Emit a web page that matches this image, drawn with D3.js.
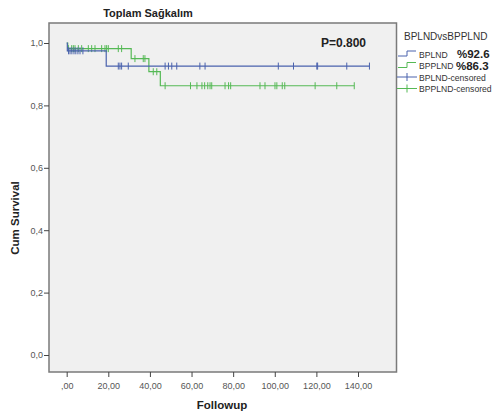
<!DOCTYPE html>
<html>
<head>
<meta charset="utf-8">
<script src="https://cdn.jsdelivr.net/npm/d3@7"></script>
<style>
  body { margin: 0; background: #fff; }
  text { font-family: "Liberation Sans", Arial, sans-serif; }
</style>
</head>
<body>
<svg id="contenedor" width="496" height="414"></svg>
<script>
// datos de las curvas (tiempo, supervivencia)
let pasosBPLND = [[0, 1.0], [0.3, 0.975], [19, 0.926], [145.5, 0.926]];
let pasosBPPLND = [[0, 1.0], [0.5, 0.982], [31, 0.950], [39.5, 0.908], [45, 0.863], [138.2, 0.863]];

// tiempos censurados
let censBPLND = [0.9, 1.6, 2.5, 3.5, 4.4, 5.4, 6.4, 7.8, 24.8, 25.6, 26.4, 29.6, 47.3, 48.9, 50.5, 52.9,
  64, 66.5, 101.7, 109, 120.2, 120.6, 134.6, 145.5];
let censBPPLND = [0.8, 2.4, 3.2, 4.0, 5.6, 7.2, 10.4, 12, 13.6, 16.8, 18.4, 19.2, 20, 24.8, 26.4,
  32.8, 36.8, 37.6, 41.6, 43.3, 47.3, 59.5, 62.6, 65, 66.3, 67.8, 68.9, 69.7, 76.1, 77.8, 78.8,
  92.9, 95.3, 100.1, 101, 103.6, 104.8, 119.4, 129.8, 138.2];

let ticksX = [0, 20, 40, 60, 80, 100, 120, 140];
let ticksY = [0, 0.2, 0.4, 0.6, 0.8, 1.0];
let leyendaNombres = ["BPLND", "BPPLND", "BPLND-censored", "BPPLND-censored"];
let leyendaPct = ["%92.6", "%86.3"];

let azul = "#4a62ad";
let verde = "#55b955";

let svg = d3.select("#contenedor");
let x0 = 49, x1 = 396.5, y0 = 23, y1 = 372;

let xScale = d3.scaleLinear().domain([-8.5, 158.5]).range([x0, x1]);
let yScale = d3.scaleLinear().domain([0, 1]).range([355, 43]);

// area del grafico
svg.append("rect")
  .attr("x", x0).attr("y", y0)
  .attr("width", x1 - x0).attr("height", y1 - y0)
  .attr("fill", "#f0f0f0");

// buscar supervivencia en un tiempo
function survAt(pasos, t) {
  let s = pasos[0][1];
  pasos.forEach((p) => { if (p[0] <= t) s = p[1]; });
  return s;
}

function dibujarCurva(pasos, cens, color) {
  let line = d3.line()
    .x((d) => xScale(d[0]))
    .y((d) => yScale(d[1]))
    .curve(d3.curveStepAfter);
  svg.append("path")
    .datum(pasos)
    .attr("d", line)
    .attr("fill", "none")
    .attr("stroke", color)
    .attr("stroke-width", 1.2);
  svg.append("g")
    .selectAll("line")
    .data(cens)
    .enter()
    .append("line")
    .attr("x1", (d) => xScale(d)).attr("x2", (d) => xScale(d))
    .attr("y1", (d) => yScale(survAt(pasos, d)) - 3.5)
    .attr("y2", (d) => yScale(survAt(pasos, d)) + 3.5)
    .attr("stroke", color)
    .attr("stroke-width", 1);
}

dibujarCurva(pasosBPPLND, censBPPLND, verde);
dibujarCurva(pasosBPLND, censBPLND, azul);

// marco
svg.append("rect")
  .attr("x", x0).attr("y", y0)
  .attr("width", x1 - x0).attr("height", y1 - y0)
  .attr("fill", "none")
  .attr("stroke", "#7a7a7a")
  .attr("stroke-width", 1.5);

// ejes
let fmtX = (d) => d === 0 ? ",00" : d3.format(".2f")(d).replace(".", ",");
let axisX = d3.axisBottom(xScale).tickValues(ticksX).tickSize(5).tickSizeOuter(0).tickFormat(fmtX);
let gx = svg.append("g").attr("transform", `translate(0, ${y1})`).call(axisX);
gx.select(".domain").remove();
gx.selectAll("line").attr("stroke", "#444");
gx.selectAll("text").attr("fill", "#555").style("font-size", "9px").attr("dy", "0.95em");

let axisY = d3.axisLeft(yScale).tickValues(ticksY).tickSize(5).tickFormat((d) => d3.format(".1f")(d).replace(".", ","));
let gy = svg.append("g").attr("transform", `translate(${x0}, 0)`).call(axisY);
gy.select(".domain").remove();
gy.selectAll("line").attr("stroke", "#444");
gy.selectAll("text").attr("fill", "#555").style("font-size", "9px").attr("x", -6);

// titulos
svg.append("text").attr("x", 148).attr("y", 17).attr("text-anchor", "middle")
  .style("font-size", "11px").style("font-weight", "bold").attr("fill", "#222")
  .text("Toplam Sağkalım");
svg.append("text").attr("x", 222).attr("y", 409).attr("text-anchor", "middle")
  .style("font-size", "11.5px").style("font-weight", "bold").attr("fill", "#222")
  .text("Followup");
svg.append("text").attr("transform", "translate(19, 218) rotate(-90)").attr("text-anchor", "middle")
  .style("font-size", "11.5px").style("font-weight", "bold").attr("fill", "#222")
  .text("Cum Survival");
svg.append("text").attr("x", 321).attr("y", 47)
  .style("font-size", "12px").style("font-weight", "bold").attr("fill", "#222")
  .text("P=0.800");

// leyenda
svg.append("text").attr("x", 404).attr("y", 40)
  .style("font-size", "10px").attr("fill", "#333").text("BPLNDvsBPPLND");
let colores = [azul, verde, azul, verde];
leyendaNombres.forEach((nombre, i) => {
  let yy = 54 + i * 11.5;
  if (i < 2) {
    svg.append("path")
      .attr("d", `M398,${yy + 2}H407V${yy - 3}H416`)
      .attr("fill", "none").attr("stroke", colores[i]).attr("stroke-width", 1);
  } else {
    svg.append("line").attr("x1", 397).attr("x2", 417).attr("y1", yy).attr("y2", yy)
      .attr("stroke", colores[i]);
    svg.append("line").attr("x1", 407).attr("x2", 407).attr("y1", yy - 4).attr("y2", yy + 4)
      .attr("stroke", colores[i]);
  }
  svg.append("text").attr("x", 419).attr("y", yy + 3.5)
    .style("font-size", "8.6px").attr("fill", "#333").text(nombre);
  if (i < 2) {
    svg.append("text").attr("x", i === 0 ? 457 : 456).attr("y", yy + 4)
      .style("font-size", "11.5px").style("font-weight", "bold").attr("fill", "#222")
      .text(leyendaPct[i]);
  }
});
</script>
</body>
</html>
